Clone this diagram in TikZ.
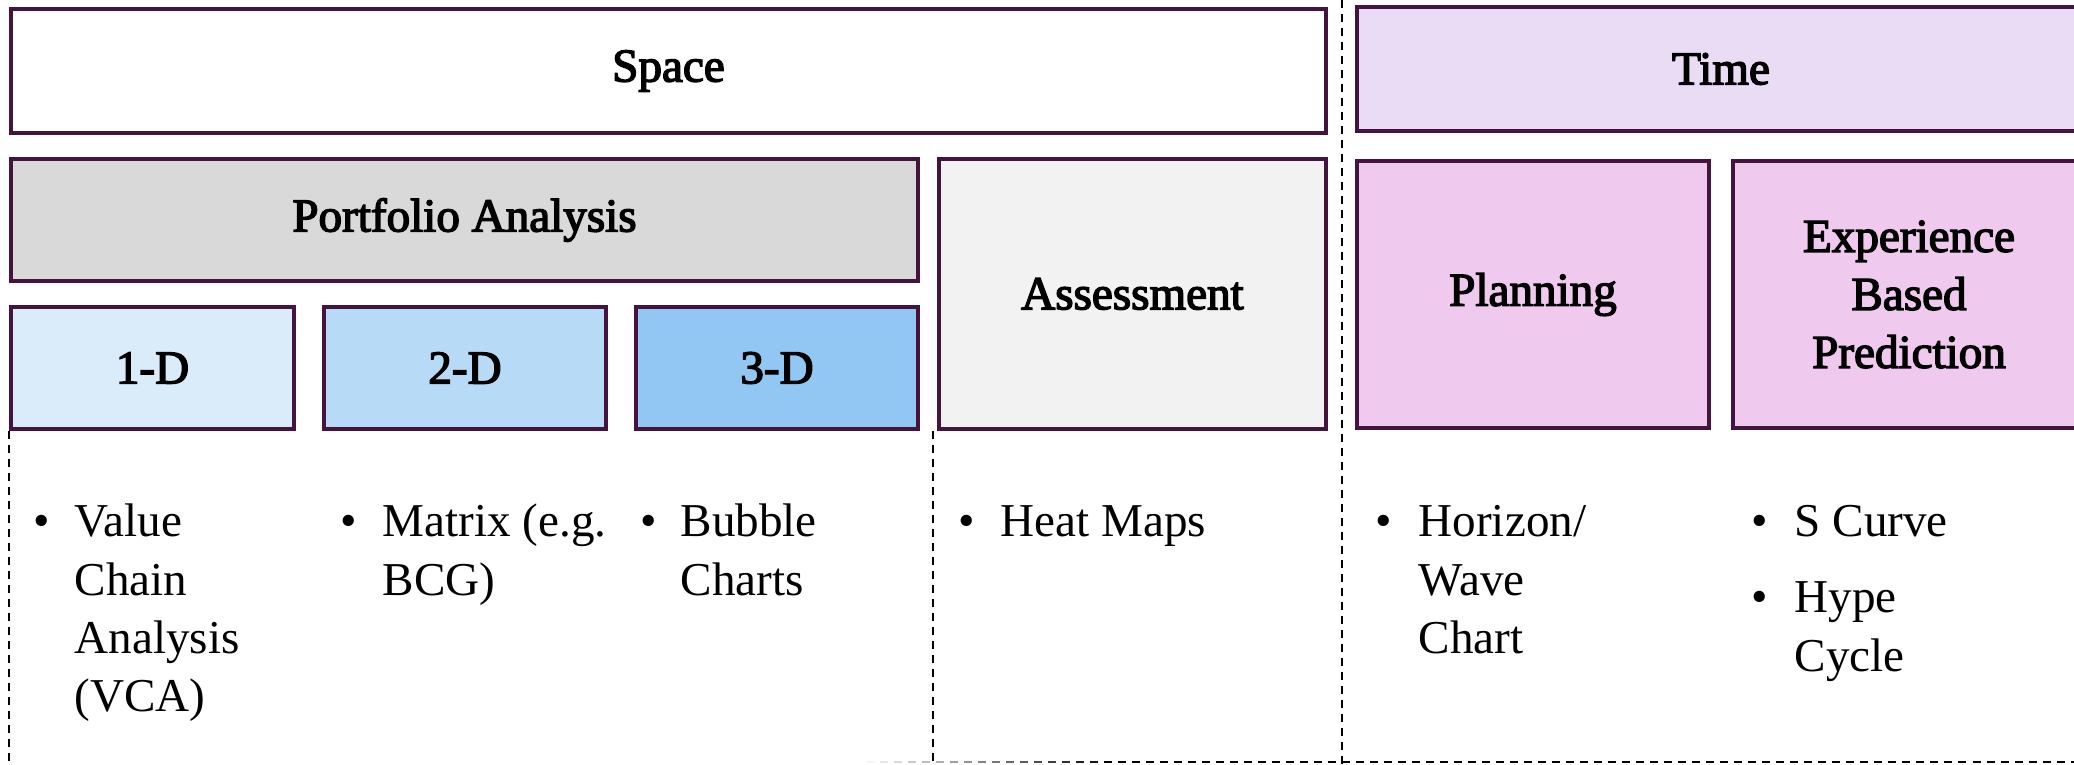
\documentclass[tikz,border=0pt]{standalone}
\usepackage{fontspec}
\setmainfont{Liberation Serif}
\newfontfamily\hdrfont{Liberation Serif}[FakeBold=3]
\definecolor{edgepurple}{HTML}{44143F}
\definecolor{timefill}{HTML}{EADCF5}
\definecolor{portfill}{HTML}{D9D9D9}
\definecolor{assessfill}{HTML}{F2F2F2}
\definecolor{onefill}{HTML}{DAEBF9}
\definecolor{twofill}{HTML}{B7DBF6}
\definecolor{threefill}{HTML}{92C7F3}
\definecolor{pinkfill}{HTML}{F0C9EE}
\newcommand{\itemlines}[1]{\begin{tabular}[t]{@{}l@{}}#1\end{tabular}}
\tikzset{
  box/.style={draw=edgepurple, line width=0.9pt, inner sep=0pt, align=center,
    font=\hdrfont\fontsize{13.4pt}{16.5pt}\selectfont},
  span/.style n args={4}{at={({(#1+#3)/2},{(#2+#4)/2})},
    minimum width={(#3-#1)*0.01cm}, minimum height={(#4-#2)*0.01cm}},
  sepline/.style={line width=0.6pt, dash pattern=on 0.08cm off 0.06cm},
  itemtext/.style={anchor=base west, inner sep=0pt,
    font=\fontsize{13.4pt}{16.5pt}\selectfont},
  bulletmark/.style={anchor=base, inner sep=0pt,
    font=\fontsize{13.4pt}{16.5pt}\selectfont}
}
\begin{document}
\begin{tikzpicture}[x=0.01cm, y=-0.01cm]
\useasboundingbox (0,0) rectangle (2074,765);
\clip (0,0) rectangle (2074,765);

% header row
\node[box, fill=white, span={11}{9}{1326}{133}] (space) {Space};
\node[box, fill=timefill, span={1357}{7}{2085}{131}] (time) {Time};

% second row
\node[box, fill=portfill, span={11}{159}{918}{281}] (portfolio) {Portfolio Analysis};
\node[box, fill=assessfill, span={939}{159}{1326}{429}] (assess) {Assessment};
\node[box, fill=pinkfill, span={1357}{161}{1709}{428}] (plan) {Planning};
\node[box, fill=pinkfill, span={1733}{161}{2085}{428}] (exper) {Experience\\Based\\Prediction};

% dimension boxes
\node[box, fill=onefill, span={11}{307}{294}{429}] (one) {1-D};
\node[box, fill=twofill, span={324}{307}{606}{429}] (two) {2-D};
\node[box, fill=threefill, span={636}{307}{918}{429}] (three) {3-D};

% separators
\coordinate (sepA top) at (9,431);
\coordinate (sepA bot) at (9,765);
\coordinate (sepB top) at (933,431);
\coordinate (sepB bot) at (933,765);
\coordinate (sepC top) at (1342,0);
\coordinate (sepC bot) at (1342,765);
\draw[sepline] (sepA top) -- (sepA bot);
\draw[sepline] (sepB top) -- (sepB bot);
\draw[sepline] (sepC top) -- (sepC bot);
% bottom rule, fading in from the left
\foreach \i in {0,...,16}{
  \pgfmathsetmacro{\shade}{4+\i*5.5}
  \draw[line width=0.6pt, black!\shade] (866+14*\i,762) -- ++(8,0);
}
\coordinate (rule start) at (1104,762);
\coordinate (rule end) at (2074,762);
\draw[sepline] (rule start) -- (rule end);

% bullet lists
\node[bulletmark] (b1) at (42,537) {\textbullet};
\node[itemtext] (t1) at (74,537) {\itemlines{Value\\Chain\\Analysis\\(VCA)}};
\node[bulletmark] (b2) at (349,537) {\textbullet};
\node[itemtext] (t2) at (382,537) {\itemlines{Matrix (e.g.\\BCG)}};
\node[bulletmark] (b3) at (649,537) {\textbullet};
\node[itemtext] (t3) at (680,537) {\itemlines{Bubble\\Charts}};
\node[bulletmark] (b4) at (967,537) {\textbullet};
\node[itemtext] (t4) at (1000,537) {Heat Maps};
\node[bulletmark] (b5) at (1384,537) {\textbullet};
\node[itemtext] (t5) at (1418,537) {\itemlines{Horizon/\\Wave\\Chart}};
\node[bulletmark] (b6) at (1760,537) {\textbullet};
\node[itemtext] (t6) at (1794,537) {S Curve};
\node[bulletmark] (b7) at (1760,613) {\textbullet};
\node[itemtext] (t7) at (1794,613) {\itemlines{Hype\\Cycle}};
\end{tikzpicture}
\end{document}
